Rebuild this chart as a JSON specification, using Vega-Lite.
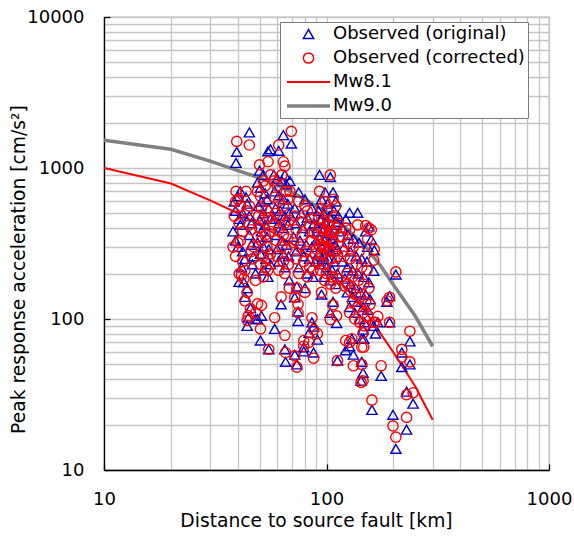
{
  "$schema": "https://vega.github.io/schema/vega-lite/v6.json",
  "width": 445,
  "height": 453,
  "autosize": "none",
  "padding": {"left": 104, "top": 17, "right": 25, "bottom": 67},
  "background": "white",
  "config": {
    "font": "DejaVu Sans",
    "view": {"stroke": "#bfbfbf", "strokeWidth": 1.3},
    "axis": {
      "grid": true,
      "gridColor": "#c4c4c4",
      "gridWidth": 1.3,
      "domainColor": "black",
      "domainWidth": 1.3,
      "tickColor": "black",
      "tickWidth": 1.2,
      "tickSize": -6,
      "labelFontSize": 18,
      "labelColor": "black",
      "labelFont": "DejaVu Sans",
      "labelOverlap": false,
      "labelFlush": false,
      "labelBound": false,
      "titleFontSize": 18.7,
      "titleFontWeight": "normal",
      "titleColor": "black",
      "titleFont": "DejaVu Sans",
      "format": "d"
    }
  },
  "datasets": {
    "st": [
      {"d":39.5,"o":1280,"c":1500},{"d":39.2,"o":1080,"c":700},{"d":45,"o":1720,"c":1420},{"d":40,"o":650,"c":620},
      {"d":41,"o":700,"c":560},{"d":38.5,"o":600,"c":480},{"d":39,"o":520,"c":600},{"d":40.5,"o":460,"c":430},
      {"d":42,"o":500,"c":380},{"d":41,"o":420,"c":330},{"d":38,"o":380,"c":300},{"d":39,"o":330,"c":260},
      {"d":40,"o":300,"c":320},{"d":42,"o":280,"c":240},{"d":43,"o":250,"c":210},{"d":41.5,"o":220,"c":195},
      {"d":40.5,"o":176,"c":199},{"d":42.5,"o":175,"c":185},{"d":44,"o":160,"c":150},{"d":43,"o":140,"c":132},
      {"d":45.5,"o":118,"c":117},{"d":44,"o":90,"c":98},{"d":44.5,"o":102,"c":105},{"d":43.5,"o":640,"c":700},
      {"d":44,"o":580,"c":520},{"d":45,"o":480,"c":560},{"d":46,"o":430,"c":390},{"d":45,"o":360,"c":420},
      {"d":46,"o":310,"c":280},{"d":47,"o":260,"c":300},{"d":46.5,"o":230,"c":250},{"d":48,"o":200,"c":180},
      {"d":48,"o":100,"c":110},
      {"d":50,"o":960,"c":1050},{"d":52,"o":900,"c":820},{"d":54.6,"o":1290,"c":1100},{"d":56,"o":1330,"c":900},
      {"d":49,"o":800,"c":700},{"d":50.5,"o":740,"c":650},{"d":53,"o":680,"c":760},{"d":51,"o":600,"c":540},
      {"d":54,"o":620,"c":520},{"d":49.5,"o":560,"c":480},{"d":52,"o":500,"c":450},{"d":55,"o":540,"c":470},
      {"d":50,"o":450,"c":400},{"d":53,"o":420,"c":360},{"d":56,"o":460,"c":380},{"d":51,"o":380,"c":330},
      {"d":54,"o":350,"c":300},{"d":49,"o":320,"c":350},{"d":52,"o":300,"c":260},{"d":55,"o":290,"c":250},
      {"d":50.5,"o":270,"c":230},{"d":53.5,"o":250,"c":220},{"d":56,"o":230,"c":270},{"d":52,"o":210,"c":190},
      {"d":54.5,"o":190,"c":210},{"d":51,"o":105,"c":123},{"d":50.5,"o":72,"c":86},{"d":55,"o":63,"c":63},
      {"d":49,"o":100,"c":126},
      {"d":61,"o":1300,"c":1420},{"d":64,"o":1650,"c":1100},{"d":69.5,"o":1450,"c":1750},{"d":65,"o":900,"c":1030},
      {"d":58,"o":900,"c":820},{"d":60,"o":850,"c":760},{"d":63,"o":820,"c":900},{"d":66,"o":780,"c":700},
      {"d":58.5,"o":700,"c":640},{"d":61,"o":660,"c":600},{"d":64,"o":620,"c":560},{"d":67,"o":580,"c":620},
      {"d":59,"o":540,"c":500},{"d":62,"o":520,"c":470},{"d":65,"o":480,"c":430},{"d":68,"o":500,"c":450},
      {"d":58,"o":460,"c":420},{"d":61,"o":430,"c":390},{"d":64,"o":400,"c":360},{"d":67,"o":420,"c":340},
      {"d":59.5,"o":360,"c":330},{"d":63,"o":330,"c":300},{"d":66,"o":310,"c":290},{"d":60,"o":290,"c":260},
      {"d":64,"o":270,"c":240},{"d":67.5,"o":260,"c":230},{"d":61,"o":240,"c":210},{"d":65,"o":220,"c":200},
      {"d":58.5,"o":86,"c":102},{"d":62.5,"o":125,"c":140},{"d":65,"o":63,"c":78},{"d":65.5,"o":52,"c":60},
      {"d":68,"o":180,"c":160},
      {"d":68.5,"o":820,"c":700},{"d":75,"o":690,"c":600},{"d":80,"o":620,"c":560},{"d":72,"o":540,"c":480},
      {"d":77,"o":500,"c":440},{"d":82,"o":470,"c":520},{"d":86,"o":540,"c":460},{"d":73,"o":430,"c":390},
      {"d":78,"o":400,"c":360},{"d":84,"o":380,"c":420},{"d":88,"o":430,"c":370},{"d":71,"o":350,"c":320},
      {"d":76,"o":330,"c":300},{"d":81,"o":310,"c":280},{"d":86,"o":300,"c":330},{"d":90,"o":330,"c":290},
      {"d":73,"o":280,"c":250},{"d":79,"o":260,"c":240},{"d":84,"o":250,"c":220},{"d":89,"o":240,"c":270},
      {"d":75,"o":220,"c":200},{"d":82,"o":200,"c":190},{"d":87,"o":190,"c":210},{"d":80,"o":160,"c":150},
      {"d":73.6,"o":164,"c":160},{"d":72,"o":139,"c":139},{"d":74.5,"o":112,"c":125},{"d":74.5,"o":97,"c":110},
      {"d":86,"o":95,"c":102},{"d":87.5,"o":89,"c":85},{"d":83.5,"o":81,"c":70},{"d":79,"o":65,"c":72},
      {"d":91,"o":73,"c":80},{"d":79,"o":61,"c":66},{"d":87.5,"o":60,"c":55},{"d":72,"o":58,"c":57},
      {"d":73.6,"o":50,"c":48},{"d":95,"o":145,"c":150},
      {"d":93,"o":900,"c":700},{"d":104,"o":870,"c":900},{"d":98.5,"o":690,"c":600},{"d":107,"o":690,"c":620},
      {"d":95,"o":620,"c":540},{"d":101,"o":580,"c":520},{"d":110,"o":600,"c":560},{"d":92,"o":520,"c":460},
      {"d":97,"o":500,"c":440},{"d":103,"o":480,"c":420},{"d":108,"o":520,"c":470},{"d":113,"o":480,"c":430},
      {"d":94,"o":450,"c":400},{"d":99,"o":430,"c":390},{"d":105,"o":420,"c":380},{"d":111,"o":440,"c":400},
      {"d":91,"o":400,"c":360},{"d":96,"o":380,"c":340},{"d":101,"o":370,"c":420},{"d":106,"o":360,"c":330},
      {"d":114,"o":380,"c":350},{"d":93,"o":340,"c":310},{"d":98,"o":330,"c":300},{"d":103,"o":320,"c":290},
      {"d":109,"o":310,"c":280},{"d":95,"o":300,"c":270},{"d":100,"o":290,"c":330},{"d":105,"o":280,"c":250},
      {"d":112,"o":290,"c":260},{"d":92,"o":270,"c":240},{"d":97,"o":260,"c":230},{"d":102,"o":250,"c":280},
      {"d":108,"o":240,"c":220},{"d":94,"o":230,"c":210},{"d":100,"o":220,"c":200},{"d":106,"o":210,"c":190},
      {"d":112,"o":200,"c":185},{"d":98,"o":190,"c":180},{"d":104,"o":180,"c":170},{"d":110,"o":170,"c":160},
      {"d":96,"o":250,"c":300},{"d":101,"o":300,"c":350},{"d":106,"o":340,"c":380},
      {"d":107,"o":130,"c":124},{"d":104,"o":110,"c":99},{"d":111,"o":94,"c":105},{"d":112,"o":53,"c":53},
      {"d":127,"o":505,"c":390},{"d":138,"o":505,"c":420},{"d":122,"o":460,"c":400},{"d":155,"o":410,"c":400},
      {"d":150,"o":380,"c":415},{"d":159,"o":336,"c":390},{"d":153,"o":300,"c":340},{"d":164,"o":285,"c":289},
      {"d":163,"o":208,"c":245},{"d":118,"o":400,"c":350},{"d":125,"o":360,"c":320},{"d":132,"o":340,"c":300},
      {"d":140,"o":320,"c":280},{"d":120,"o":300,"c":260},{"d":128,"o":280,"c":250},{"d":136,"o":260,"c":230},
      {"d":144,"o":250,"c":220},{"d":152,"o":240,"c":210},{"d":118,"o":240,"c":280},{"d":124,"o":220,"c":200},
      {"d":131,"o":210,"c":190},{"d":139,"o":200,"c":180},{"d":147,"o":190,"c":170},{"d":155,"o":175,"c":160},
      {"d":121,"o":185,"c":165},{"d":128,"o":170,"c":155},{"d":135,"o":160,"c":145},{"d":142,"o":150,"c":140},
      {"d":150,"o":145,"c":130},{"d":157,"o":135,"c":125},{"d":124,"o":150,"c":170},{"d":131,"o":140,"c":130},
      {"d":138,"o":130,"c":120},{"d":146,"o":120,"c":110},{"d":153,"o":115,"c":105},{"d":127,"o":120,"c":110},
      {"d":134,"o":110,"c":100},{"d":141,"o":100,"c":95},{"d":148,"o":95,"c":90},{"d":170,"o":95,"c":104},
      {"d":163,"o":90,"c":95},{"d":146,"o":85,"c":81},{"d":144,"o":74,"c":65},{"d":130,"o":74,"c":74},
      {"d":127,"o":66,"c":70},{"d":122,"o":62,"c":72},{"d":132,"o":58,"c":49},{"d":144,"o":52,"c":50},
      {"d":146,"o":44,"c":39},{"d":143,"o":39,"c":38},{"d":147,"o":74,"c":65},{"d":176,"o":42,"c":49},
      {"d":160,"o":25,"c":29},{"d":166,"o":80,"c":95},
      {"d":205,"o":197,"c":205},{"d":192,"o":142,"c":139},{"d":187,"o":130,"c":132},{"d":192,"o":95,"c":95},
      {"d":237,"o":71,"c":83},{"d":218,"o":60,"c":63},{"d":218,"o":48,"c":56},{"d":237,"o":50,"c":52},
      {"d":229,"o":33,"c":31.5},{"d":245,"o":27.5,"c":32.5},{"d":199,"o":23.2,"c":19.6},{"d":229,"o":18.5,"c":22.3},
      {"d":205,"o":13.8,"c":16.5}
    ],
    "m81": [
      {"d":10,"a":1000},{"d":20,"a":790},{"d":30,"a":610},{"d":40,"a":500},{"d":50,"a":420},{"d":60,"a":360},
      {"d":70,"a":315},{"d":80,"a":275},{"d":90,"a":245},{"d":100,"a":215},{"d":125,"a":155},{"d":150,"a":112},
      {"d":175,"a":80},{"d":200,"a":60},{"d":250,"a":36},{"d":300,"a":21.5}
    ],
    "m90": [
      {"d":10,"a":1530},{"d":20,"a":1330},{"d":30,"a":1110},{"d":40,"a":960},{"d":50,"a":860},{"d":60,"a":770},
      {"d":70,"a":690},{"d":80,"a":620},{"d":90,"a":560},{"d":100,"a":510},{"d":125,"a":390},{"d":150,"a":300},
      {"d":175,"a":225},{"d":200,"a":168},{"d":250,"a":105},{"d":300,"a":66}
    ]
  },
  "encoding": {
    "x": {
      "field": "d",
      "type": "quantitative",
      "scale": {"type": "log", "domain": [10, 1000], "nice": false},
      "axis": {
        "title": "Distance to source fault [km]",
        "values": [10,20,30,40,50,60,70,80,90,100,200,300,400,500,600,700,800,900,1000],
        "labelExpr": "(datum.value == 10 || datum.value == 100 || datum.value == 1000) ? datum.label : ''",
        "tickOpacity": {"condition": {"test": "datum.value == 10 || datum.value == 100 || datum.value == 1000", "value": 1}, "value": 0},
        "labelPadding": 26,
        "titleX": 212,
        "titleY": 50,
        "titleBaseline": "middle",
        "titleAlign": "center"
      }
    }
  },
  "layer": [
    {
      "data": {"name": "m81"},
      "mark": {"type": "line", "clip": true, "strokeWidth": 2},
      "encoding": {
        "y": {"field": "a", "type": "quantitative", "scale": {"type": "log", "domain": [10, 10000], "nice": false},
          "axis": {
            "title": "Peak response acceleration [cm/s²]",
            "values": [10,20,30,40,50,60,70,80,90,100,200,300,400,500,600,700,800,900,1000,2000,3000,4000,5000,6000,7000,8000,9000,10000],
            "labelExpr": "(datum.value == 10 || datum.value == 100 || datum.value == 1000 || datum.value == 10000) ? datum.label : ''",
            "tickOpacity": {"condition": {"test": "datum.value == 10 || datum.value == 100 || datum.value == 1000 || datum.value == 10000", "value": 1}, "value": 0},
            "labelPadding": 26,
            "titleX": -86,
            "titleY": 252,
            "titleBaseline": "middle",
            "titleAlign": "center"
          }},
        "color": {"datum": "Mw8.1", "type": "nominal",
          "scale": {"domain": ["Observed (original)", "Observed (corrected)", "Mw8.1", "Mw9.0"], "range": ["#0000c8", "#ff0000", "#ff0000", "#808080"]},
          "legend": {
            "title": null, "orient": "none", "legendX": 176, "legendY": 5,
            "fillColor": "white", "strokeColor": "#7a7a7a", "padding": 3,
            "labelFontSize": 18, "labelColor": "black", "labelOffset": 32,
            "rowPadding": 6, "labelLimit": 400, "symbolSize": 1849, "symbolStrokeWidth": 1.5,
            "encode": {
              "symbols": {
                "update": {
                  "x": {"value": 25.5},
                  "shape": {"signal": "datum.value == 'Observed (original)' ? 'triangle-up' : (datum.value == 'Observed (corrected)' ? 'circle' : 'stroke')"},
                  "size": {"signal": "(datum.value == 'Mw8.1' || datum.value == 'Mw9.0') ? 1849 : 105"},
                  "strokeWidth": {"signal": "datum.value == 'Mw9.0' ? 3.5 : (datum.value == 'Mw8.1' ? 2 : 1.5)"},
                  "stroke": {"scale": "color", "field": "value"},
                  "fill": {"value": "transparent"},
                  "opacity": {"value": 1}
                }
              }
            }
          }}
      }
    },
    {
      "data": {"name": "m90"},
      "mark": {"type": "line", "clip": true, "strokeWidth": 3.5},
      "encoding": {
        "y": {"field": "a", "type": "quantitative"},
        "color": {"datum": "Mw9.0", "type": "nominal"}
      }
    },
    {
      "data": {"name": "st"},
      "mark": {"type": "point", "shape": "triangle-up", "filled": false, "clip": true, "opacity": 1, "size": 105, "strokeWidth": 1.4},
      "encoding": {
        "y": {"field": "o", "type": "quantitative"},
        "color": {"datum": "Observed (original)", "type": "nominal"}
      }
    },
    {
      "data": {"name": "st"},
      "mark": {"type": "point", "shape": "circle", "filled": false, "clip": true, "opacity": 1, "size": 105, "strokeWidth": 1.4},
      "encoding": {
        "y": {"field": "c", "type": "quantitative"},
        "color": {"datum": "Observed (corrected)", "type": "nominal"}
      }
    }
  ]
}
